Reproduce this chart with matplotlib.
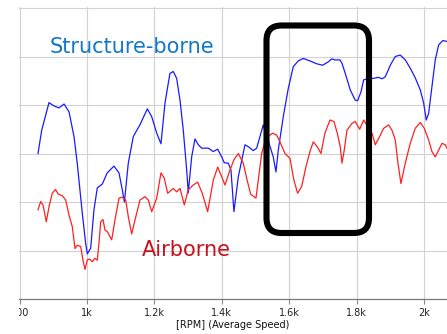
import matplotlib
matplotlib.use("Agg")
import matplotlib.pyplot as plt
from matplotlib.patches import FancyBboxPatch
from matplotlib.transforms import IdentityTransform, Bbox, TransformedBbox

# ---- data (rpm, level in dB-like units) ----
sb_rpm = [854.6, 865.6, 887.2, 902, 917, 932, 946.6, 961.4, 971.2, 986, 996, 1001, 1011, 1020.7,
          1030.5, 1045.4, 1060, 1080, 1095, 1104.7, 1111, 1122.5, 1137.4, 1157, 1179, 1192, 1206.8,
          1219.5, 1231.4, 1246, 1256, 1266, 1276, 1285.7, 1295.8, 1300.5, 1310.6, 1320.4, 1330.2,
          1340.3, 1360, 1374.7, 1387.8, 1399.6, 1407.4, 1419.2, 1427.2, 1436, 1449, 1468.8, 1478.6,
          1493.4, 1503.5, 1523, 1537, 1552.7, 1560.7, 1567.6, 1582.4, 1597.2, 1612, 1627, 1641.7,
          1661.6, 1681.5, 1699.3, 1716, 1726, 1735.8, 1750.6, 1756.6, 1766.4, 1781.2, 1796, 1803,
          1813, 1821, 1833.6, 1850.6, 1865.4, 1875.3, 1885, 1900, 1914.7, 1929.5, 1944.4, 1959.2,
          1974, 1989, 1999, 2006.7, 2013.8, 2023.6, 2033.4, 2043.5, 2056.2, 2068]
sb_level = [30.0, 34.8, 40.5, 39.8, 39.4, 40.2, 38.6, 33.5, 27.9, 17.7, 11.5, 9.3, 10.5, 18.4,
            22.9, 23.7, 26.0, 27.4, 26.0, 22.5, 20.0, 28.0, 33.5, 35.9, 39.2, 37.6, 34.2,
            32.0, 40.4, 46.5, 46.9, 45.5, 41.0, 34.8, 26.6, 21.9, 29.3, 33.0, 31.8,
            31.1, 31.1, 30.4, 30.9, 29.3, 28.1, 28.0, 26.6, 18.0, 25.2, 31.8, 31.4,
            30.6, 31.1, 35.9, 32.8, 29.3, 26.2, 30.7, 37.6, 43.4, 47.9, 49.1, 49.6,
            49.1, 48.5, 48.2, 48.9, 49.5, 49.3, 49.3, 48.6, 46.5, 43.1, 41.0, 40.9,
            42.7, 45.2, 45.4, 45.5, 45.7, 45.4, 45.8, 48.2, 50.0, 50.3, 49.3, 47.6,
            45.6, 43.1, 40.4, 36.9, 38.3, 43.8, 49.3, 52.4, 53.3, 53.1]

ab_rpm = [854.6, 862.6, 869.4, 879.2, 887.2, 897, 906.5, 914.8, 926.7, 936.8, 946.6, 956.4, 964.4,
          971.2, 981.3, 988.1, 994, 1001, 1008, 1015.7, 1023.7, 1030.5, 1035.6, 1040.6, 1047.4,
          1053.4, 1060.2, 1073.3, 1083, 1095, 1104.7, 1114.8, 1122.5, 1132.6, 1142.4, 1157.2, 1172,
          1181.9, 1192, 1206.8, 1219.5, 1229.3, 1239.4, 1256, 1266, 1276, 1288.7, 1300.5, 1315.4,
          1328.4, 1342, 1358, 1374.7, 1387.8, 1397.5, 1409.4, 1424.3, 1436, 1449, 1463.7, 1473.8,
          1485.7, 1501.4, 1508.2, 1518.3, 1531, 1551, 1562.8, 1572.6, 1587.5, 1602.3, 1614, 1625,
          1637, 1649.8, 1661.6, 1671.4, 1683.3, 1694.3, 1706, 1721, 1732.8, 1742.6, 1751.5, 1756.6,
          1763.4, 1771.4, 1786.2, 1796, 1809, 1821, 1833.6, 1845.6, 1855.4, 1868.4, 1880.3, 1895,
          1905, 1914.7, 1922.8, 1931.6, 1944.4, 1959.2, 1974, 1989, 2000.7, 2013.8, 2023.6, 2033.4,
          2043.5, 2053.3, 2063, 2068]
ab_level = [18.4, 20.1, 19.4, 15.9, 19.0, 21.8, 22.6, 21.6, 21.3, 20.4, 17.3, 14.9, 10.4,
            11.1, 10.8, 8.0, 6.1, 8.1, 8.2, 7.7, 8.4, 8.0, 11.5, 15.9, 16.4,
            14.2, 13.9, 12.2, 16.3, 20.8, 21.0, 20.4, 17.0, 13.4, 16.3, 20.4, 21.1,
            20.4, 18.0, 20.8, 26.0, 24.9, 21.8, 22.8, 22.1, 22.8, 19.4, 22.5, 23.5,
            24.1, 21.8, 18.0, 24.5, 27.2, 25.6, 23.5, 26.6, 28.7, 30.0, 28.0, 24.9,
            21.6, 20.8, 24.5, 30.0, 33.2, 34.2, 33.8, 32.4, 30.0, 29.0, 24.5, 21.8,
            23.2, 27.3, 30.4, 32.4, 31.4, 30.0, 34.2, 36.9, 36.6, 34.2, 31.4, 28.0,
            30.7, 34.8, 36.2, 36.6, 35.0, 36.9, 35.5, 34.2, 31.8, 33.5, 35.2, 35.9,
            34.8, 32.8, 28.0, 23.8, 28.0, 32.1, 35.2, 36.4, 35.2, 32.8, 30.4, 29.3,
            30.7, 32.1, 31.8, 31.1]

tick_rpm = [800, 1000, 1200, 1400, 1600, 1800, 2000]
tick_labels = ["800", "1k", "1.2k", "1.4k", "1.6k", "1.8k", "2k"]
level_grid = [0, 10, 20, 30, 40, 50, 60]
x_label = "[RPM] (Average Speed)"
label_sb = "Structure-borne"
label_ab = "Airborne"

W, H = 447, 334
fig = plt.figure(figsize=(W / 100, H / 100), dpi=100)
fig.patch.set_facecolor("white")

px_per_rpm = 0.337
left_px = 18.6
bottom_px = 299
top_px = 7
ax = fig.add_axes([left_px / W, (H - bottom_px) / H, (W - left_px) / W, (bottom_px - top_px) / H])
x0 = 800 - (19.6 - left_px) / px_per_rpm
ax.set_xlim(x0, x0 + (W - left_px) / px_per_rpm)
ax.set_ylim(0, (bottom_px - top_px) / 4.85)

ax.set_xticks(tick_rpm)
ax.set_xticklabels(tick_labels, fontsize=7, color="#222222")
ax.set_yticks(level_grid)
ax.tick_params(axis="y", left=False, labelleft=False)
ax.tick_params(axis="x", length=3.8, width=0.8, color="#888888", pad=2.5)
ax.grid(True, color="#d2d2d2", linewidth=0.8)
ax.set_axisbelow(True)
for s in ["left", "right", "top"]:
    ax.spines[s].set_visible(False)
ax.spines["bottom"].set_color("#7a7a7a")
ax.spines["bottom"].set_linewidth(0.9)

# clip tick labels to the plot's left edge (first label is cut off in the original)
clip = TransformedBbox(Bbox([[left_px / W, 0], [1, 1]]), fig.transFigure)
for lbl in ax.get_xticklabels():
    lbl.set_clip_on(True)
    lbl.set_clip_box(clip)

ax.plot(sb_rpm, sb_level, color="#1a1aff", lw=0.9)
ax.plot(ab_rpm, ab_level, color="#ff2020", lw=0.9)

ax.set_xlabel(x_label, fontsize=7, color="#111111", labelpad=1.5)

fig.text(50 / W, 1 - 53.3 / H, label_sb, fontsize=15, color="#1478c8", ha="left", va="baseline")
fig.text(141.7 / W, 1 - 256 / H, label_ab, fontsize=15, color="#c8101e", ha="left", va="baseline")

box = FancyBboxPatch((266.5, H - 233), 102.5, 207.5,
                     boxstyle="round,pad=0,rounding_size=15",
                     transform=IdentityTransform(), fill=False,
                     edgecolor="black", linewidth=4.4, zorder=10)
fig.patches.append(box)

fig.savefig("out.png", dpi=100)
